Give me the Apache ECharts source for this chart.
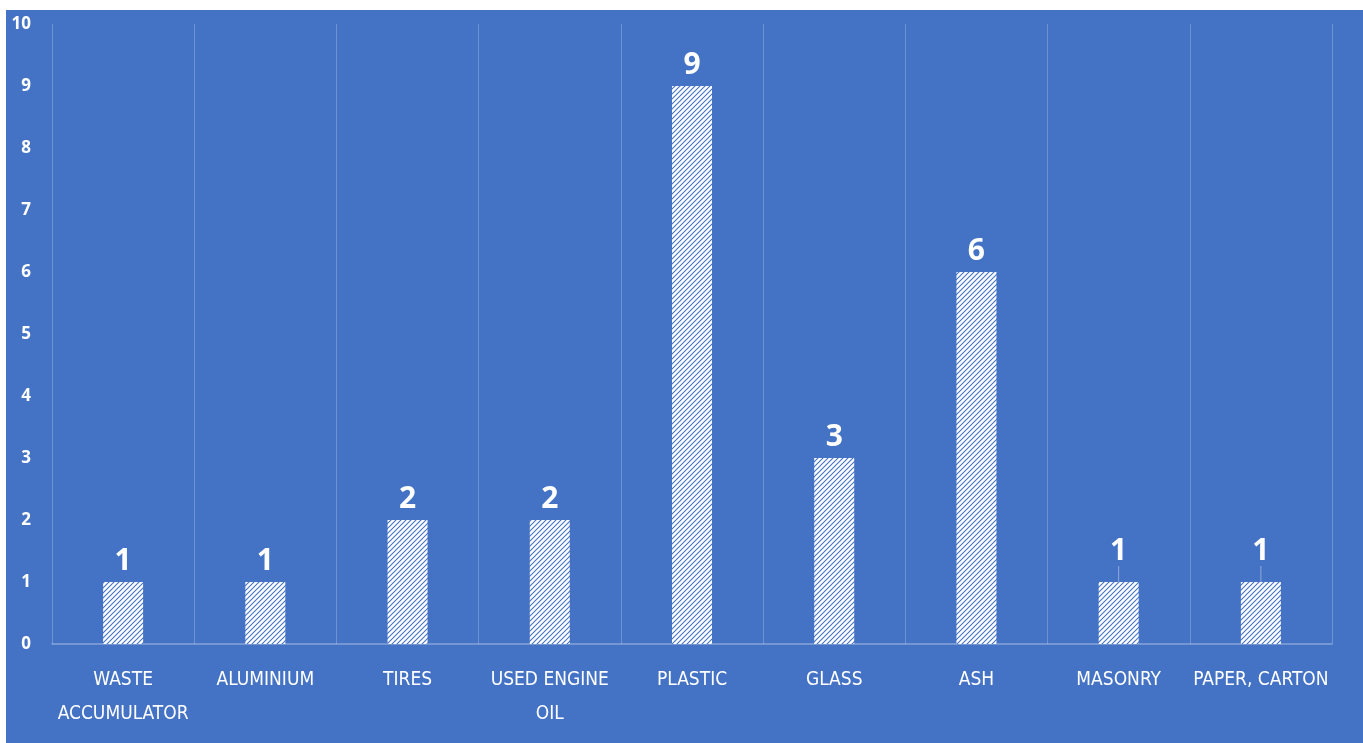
<!DOCTYPE html>
<html>
<head>
<meta charset="utf-8">
<script src="https://cdn.jsdelivr.net/npm/echarts@6/dist/echarts.min.js"></script>
<style>
  html, body { margin: 0; padding: 0; background: #ffffff; width: 1363px; height: 743px; overflow: hidden; }
  #chart { position: absolute; left: 6px; top: 10px; width: 1357px; height: 733px; }
</style>
</head>
<body>
<div id="chart"></div>
<script>
const categories = ['WASTE\nACCUMULATOR', 'ALUMINIUM', 'TIRES', 'USED ENGINE\nOIL', 'PLASTIC', 'GLASS', 'ASH', 'MASONRY', 'PAPER, CARTON'];
const values = [1, 1, 2, 2, 9, 3, 6, 1, 1];
const yTicks = [0, 1, 2, 3, 4, 5, 6, 7, 8, 9, 10];
const raisedLabels = [7, 8];

const BLUE = '#4472c4';

function makePattern() {
  const c = document.createElement('canvas');
  c.width = 5; c.height = 5;
  const g = c.getContext('2d');
  g.fillStyle = '#ffffff';
  g.fillRect(0, 0, 5, 5);
  g.strokeStyle = BLUE;
  g.lineWidth = 1.1;
  g.beginPath();
  g.moveTo(-1, 6); g.lineTo(6, -1);
  g.moveTo(-1, 1); g.lineTo(1, -1);
  g.moveTo(4, 6); g.lineTo(6, 4);
  g.stroke();
  return c;
}

const seriesData = values.map(function (v, i) {
  return raisedLabels.indexOf(i) >= 0 ? { value: v, labelLine: { show: true } } : { value: v };
});

const chart = echarts.init(document.getElementById('chart'));
chart.setOption({
  backgroundColor: BLUE,
  animation: false,
  grid: { left: 46, right: 31, top: 14, bottom: 99 },
  xAxis: {
    type: 'category',
    data: categories,
    boundaryGap: true,
    axisLine: { show: true, lineStyle: { color: 'rgba(255,255,255,0.35)', width: 1.5 } },
    axisTick: { show: false },
    splitLine: { show: true, interval: 0, lineStyle: { color: 'rgba(255,255,255,0.22)', width: 1 } },
    axisLabel: {
      interval: 0,
      color: '#ffffff',
      fontFamily: '"Liberation Sans Narrow", "DejaVu Sans Condensed", sans-serif',
      fontSize: 19,
      lineHeight: 34,
      margin: 19
    }
  },
  yAxis: {
    type: 'value',
    min: yTicks[0],
    max: yTicks[yTicks.length - 1],
    interval: 1,
    axisLine: { show: false },
    axisTick: { show: false },
    splitLine: { show: false },
    axisLabel: {
      color: '#ffffff',
      fontFamily: '"Open Sans", sans-serif',
      fontWeight: 'bold',
      fontSize: 17,
      margin: 21
    }
  },
  series: [{
    type: 'bar',
    data: seriesData,
    barWidth: 40,
    itemStyle: { color: { image: makePattern(), repeat: 'repeat' } },
    label: {
      show: true,
      position: 'top',
      distance: 6,
      color: '#ffffff',
      fontFamily: '"Open Sans", sans-serif',
      fontWeight: 'bold',
      fontSize: 30
    },
    labelLine: { show: false, lineStyle: { color: 'rgba(255,255,255,0.4)', width: 1 } },
    labelLayout: function (params) {
      if (raisedLabels.indexOf(params.dataIndex) >= 0) return { dy: -10 };
      return {};
    }
  }]
});
</script>
</body>
</html>
